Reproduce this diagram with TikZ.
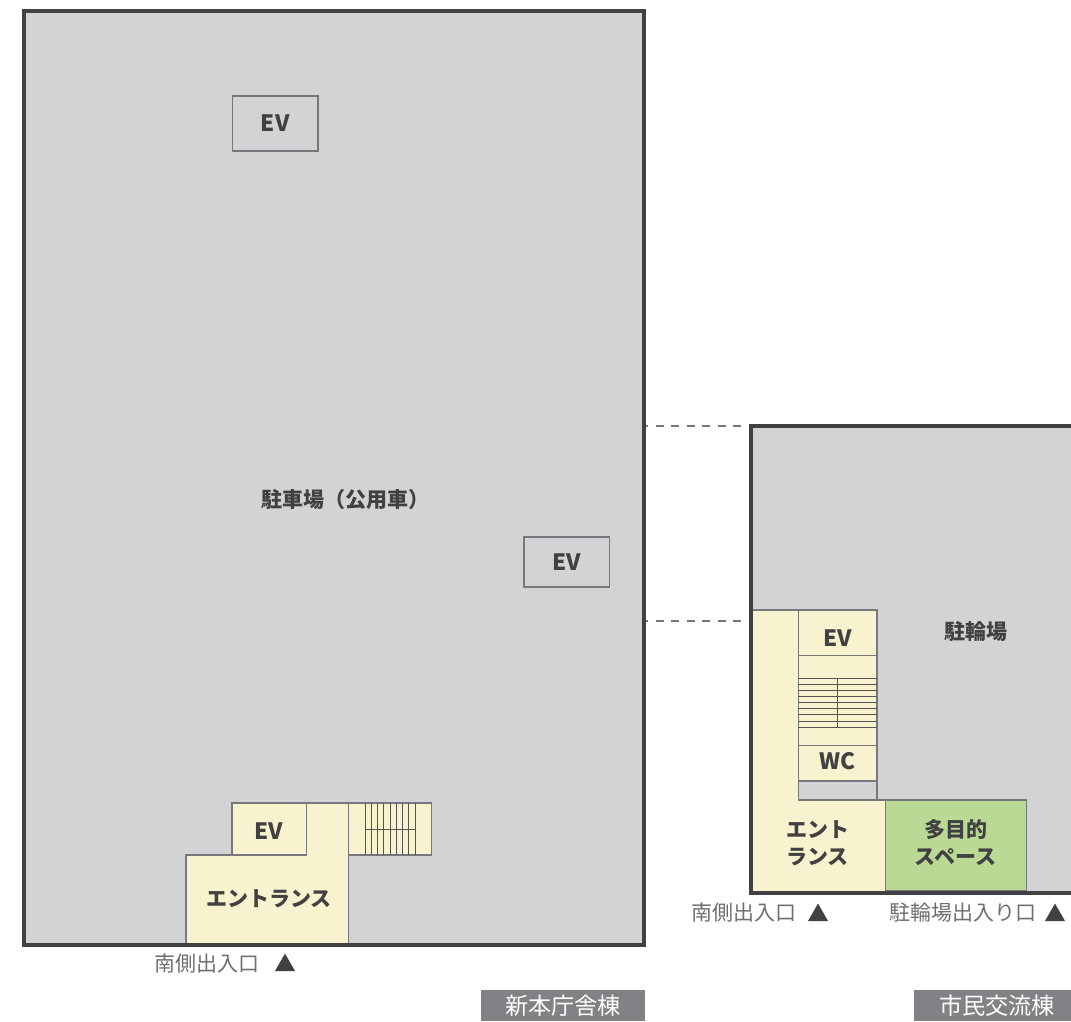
\documentclass[tikz,border=0pt]{standalone}
\usepackage{fontspec}
\setmainfont{Noto Sans CJK JP}
\definecolor{floorgray}{HTML}{D1D3D4}
\definecolor{pale}{HTML}{F8F3CE}
\definecolor{leaf}{HTML}{B9D994}
\definecolor{ink}{HTML}{414042}
\definecolor{tabgray}{HTML}{808285}
\definecolor{linegray}{HTML}{77787B}
\definecolor{txtgray}{HTML}{6D6E71}
\tikzset{
 x=1pt,y=-1pt,
 wall/.style={draw=ink,line width=3.8pt,fill=floorgray},
 room/.style={draw=linegray,line width=1.1pt,fill=pale},
 stairline/.style={draw=ink!90,line width=1pt},
 lab/.style={font=\bfseries\fontsize{21}{25}\selectfont,text=ink,inner sep=0pt},
 evlab/.style={font=\bfseries\fontsize{22.5}{26}\selectfont,text=ink,inner sep=0pt},
 small/.style={font=\bfseries\fontsize{21}{27}\selectfont,text=ink,inner sep=0pt,align=center},
 note/.style={font=\fontsize{21}{25}\selectfont,text=txtgray,inner sep=0pt},
 tab/.style={text=white,font=\fontsize{23.2}{27}\selectfont,inner sep=0pt,anchor=center},
 tri/.style={fill=ink,draw=none},
 dashlink/.style={draw=linegray,line width=1.1pt,dash pattern=on 8pt off 7.5pt},
}
\begin{document}
\begin{tikzpicture}
\useasboundingbox (0,0) rectangle (1071,1021);
% dashed links
\coordinate (d1a) at (644,426); \coordinate (d1b) at (751,426);
\coordinate (d2a) at (644,621); \coordinate (d2b) at (754,621);
\draw[dashlink,dash phase=4pt] (d1a) -- (d1b);
\draw[dashlink,dash phase=4pt] (d2a) -- (d2b);
% main building
\draw[wall] (24,11) rectangle (644,945);
\node[draw=linegray,line width=1.1pt,minimum width=85.5pt,minimum height=55pt,inner sep=0pt,evlab] (ev1) at (275.2,123.5) {EV};
\node[draw=linegray,line width=1.1pt,minimum width=85.5pt,minimum height=50pt,inner sep=0pt,evlab] (ev2) at (566.7,562) {EV};
\node[lab] (park) at (345,500) {駐車場（公用車）};
% main entrance
\draw[room] (186,943) -- (186,855) -- (232,855) -- (232,803) -- (348.3,803) -- (348.3,943);
\draw[room] (232,855) rectangle (306.7,803);
\draw[room] (348.3,803) rectangle (431.7,855);
\foreach \x in {365.3,371.5,377.7,383.9,390.1,396.3,402.5,408.7,415}
  \draw[stairline] (\x,803) -- (\x,855);
\draw[stairline] (365.3,829) -- (415,829);
\draw[draw=ink,line width=3.8pt] (186,945) -- (348.3,945);
\node[evlab] (evm) at (268.5,831) {EV};
\node[lab] (entm) at (269,899) {エントランス};
\node[note,anchor=east] (s1) at (260,964) {南側出入口};
\draw[tri] (275,971) -- (285,953.5) -- (295,971) -- cycle;
% tab
\fill[tabgray] (481,990) rectangle (645,1021);
\node[tab] (t1) at (563,1005.5) {新本庁舎棟};
% right building
\fill[floorgray] (751,426) rectangle (1071,893);
\draw[draw=ink,line width=3.8pt] (1073,426) -- (751,426) -- (751,893) -- (1073,893);
\fill[pale] (753,610) -- (798.3,610) -- (798.3,800) -- (885.3,800) -- (885.3,891) -- (753,891) -- cycle;
\draw[room,fill=none] (753,610) -- (798.3,610) -- (798.3,800) -- (885.3,800) -- (885.3,891);
\draw[room] (798.3,610) rectangle (877,781);
\draw[linegray,line width=1.1pt] (798.3,655.7) -- (877,655.7);
\draw[linegray,line width=1.1pt] (798.3,745.7) -- (877,745.7);
\draw[linegray,line width=1.1pt] (877,781) -- (877,800);
\foreach \y in {678.3,684.4,690.5,696.6,702.7,708.8,714.9,721,727}
  \draw[stairline] (798.3,\y) -- (877,\y);
\draw[stairline] (837.5,678.3) -- (837.5,727);
\draw[room,fill=leaf] (885.3,800) rectangle (1026.3,891);
\draw[draw=ink,line width=3.8pt] (751,893) -- (1073,893);
\node[evlab] (evr) at (837.5,638) {EV};
\node[evlab] (wcr) at (837.5,761) {WC};
\node[lab] (bike) at (976,631) {駐輪場};
\node[small] (entr) at (817.5,843) {エント\\ランス};
\node[small] (multi) at (955.5,843) {多目的\\スペース};
\node[note,anchor=east] (s2) at (797,913) {南側出入口};
\draw[tri] (808,921) -- (818,903.5) -- (828,921) -- cycle;
\node[note,anchor=east] (s3) at (1037,913) {駐輪場出入り口};
\draw[tri] (1045,921) -- (1055,903.5) -- (1065,921) -- cycle;
\fill[tabgray] (914,990) rectangle (1071,1021);
\node[tab] (t2) at (997,1005.5) {市民交流棟};
\end{tikzpicture}
\end{document}
